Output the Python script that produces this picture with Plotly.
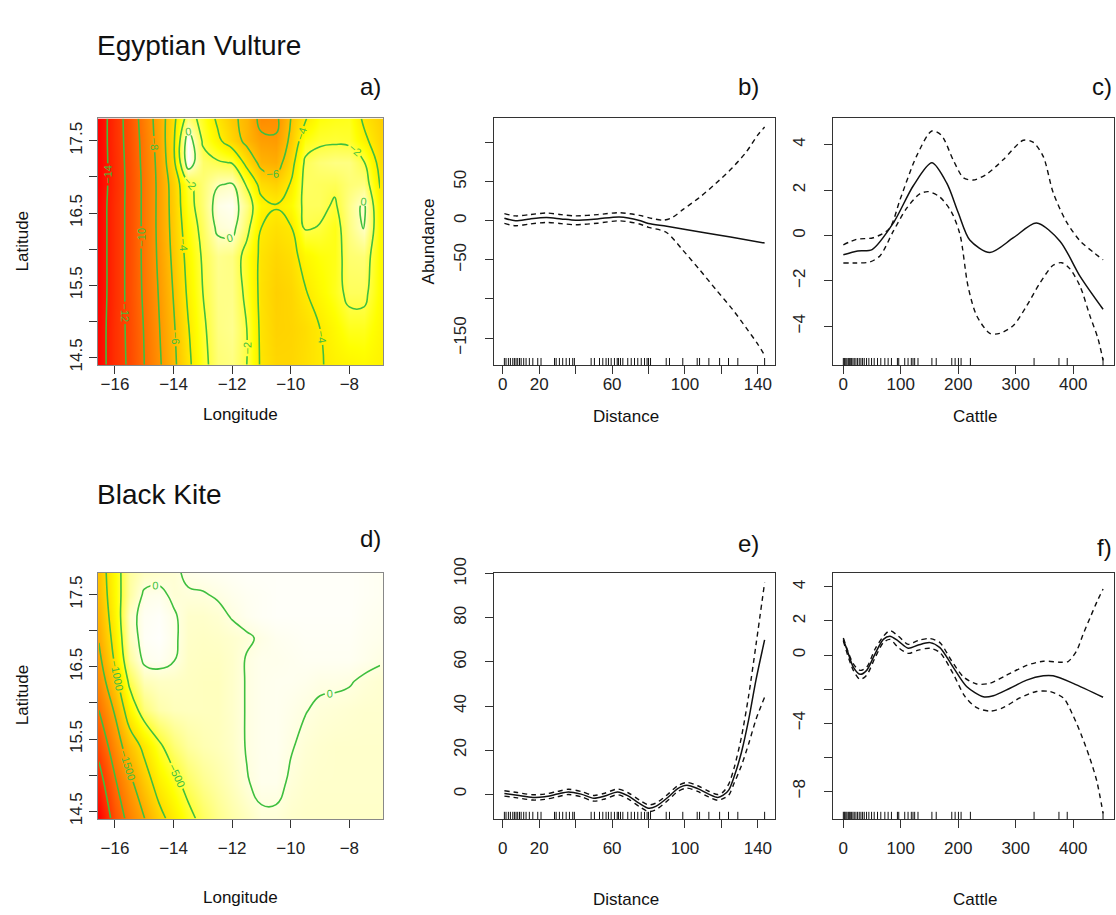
import plotly.graph_objects as go

W, H = 1116, 915
FONT = "Liberation Sans, Arial, Helvetica, sans-serif"
GREEN = "#3FBF3F"
INK = "#222222"

# ---------------- surfaces (a: Egyptian Vulture, d: Black Kite) ----------------
lon = [-16.55, -16.0, -15.5, -15.0, -14.5, -14.0, -13.5, -13.0, -12.5, -12.0,
       -11.5, -11.0, -10.5, -10.0, -9.5, -9.0, -8.5, -8.0, -7.5, -6.95]
lat = [14.4, 14.9, 15.4, 15.9, 16.3, 16.6, 16.9, 17.2, 17.5, 17.81]

ev_surface = [
    [-14.9, -12.9, -11.7, -10.0, -8.3, -6.4, -4.4, -2.5, -1.2, -1.0, -2.0, -4.3, -5.0, -5.0, -4.6, -4.1, -3.7, -3.5, -3.3, -3.6],
    [-14.9, -12.9, -11.6, -9.9, -8.1, -6.2, -4.1, -2.3, -1.0, -0.8, -2.0, -4.4, -5.2, -5.1, -4.7, -4.0, -3.3, -2.6, -2.6, -3.4],
    [-15.0, -13.0, -11.5, -9.7, -7.9, -5.9, -3.7, -2.0, -0.9, -0.9, -2.4, -4.5, -5.3, -5.0, -4.1, -3.3, -2.6, -1.6, -1.6, -3.2],
    [-15.0, -13.0, -11.5, -9.6, -7.7, -5.6, -3.4, -1.8, -0.8, -1.0, -2.6, -4.4, -5.0, -4.6, -3.4, -2.9, -2.7, -1.3, -1.2, -3.2],
    [-15.0, -13.0, -11.5, -9.6, -7.6, -5.4, -3.0, -1.5, 0.3, 0.5, -1.5, -4.0, -4.5, -4.1, -1.8, -2.1, -2.7, -1.0, 0.1, -3.3],
    [-15.0, -13.0, -11.5, -9.6, -7.6, -5.3, -2.6, -1.2, 0.6, 0.8, -1.0, -3.4, -3.9, -3.2, -1.6, -1.6, -2.2, -0.9, 0.3, -3.6],
    [-15.1, -13.1, -11.5, -9.6, -7.6, -5.2, -2.3, -1.2, -0.1, 0.1, -2.2, -4.7, -5.2, -3.9, -1.5, -1.6, -1.7, -1.2, -1.0, -4.1],
    [-15.1, -13.1, -11.4, -9.5, -7.5, -4.5, 1.0, -1.4, -1.8, -2.1, -4.6, -6.6, -6.9, -4.8, -1.7, -1.2, -1.0, -1.0, -1.9, -4.6],
    [-15.1, -13.0, -11.3, -9.4, -7.3, -4.3, 1.0, -2.2, -3.6, -5.0, -6.5, -7.6, -7.8, -5.6, -2.8, -2.3, -2.2, -2.3, -3.6, -5.0],
    [-15.1, -13.0, -11.2, -9.2, -7.2, -4.5, -1.2, -2.6, -4.3, -5.6, -6.6, -8.6, -8.4, -6.0, -4.1, -2.9, -2.7, -2.6, -4.3, -5.3],
]

bk_surface = [
    [-3050, -2300, -1850, -1510, -1130, -850, -600, -400, -260, -170, -100, -25, -25, -60, -70, -70, -70, -70, -70, -70],
    [-2700, -2050, -1600, -1200, -830, -600, -380, -250, -170, -100, -10, 40, 40, -20, -50, -60, -60, -60, -60, -60],
    [-2350, -1750, -1250, -900, -560, -330, -200, -140, -110, -70, 10, 40, 50, 10, -30, -50, -60, -60, -60, -60],
    [-2000, -1450, -750, -320, -160, -110, -100, -100, -100, -60, 10, 40, 50, 30, 5, -20, -30, -40, -50, -50],
    [-1750, -1150, -420, -120, -80, -80, -90, -100, -100, -60, 10, 40, 50, 50, 40, 20, 20, 10, -20, -40],
    [-1600, -950, -200, 40, 60, 10, -80, -90, -90, -60, 10, 40, 40, 50, 60, 60, 60, 60, 40, 15],
    [-1470, -850, -100, 70, 90, 30, -70, -80, -70, -50, -20, 20, 50, 60, 70, 70, 70, 70, 50, 40],
    [-1380, -770, -60, 60, 80, 20, -60, -60, -40, 10, 50, 70, 80, 80, 80, 80, 80, 80, 60, 50],
    [-1300, -720, -180, 30, 40, -30, -15, -10, 15, 40, 60, 70, 80, 80, 80, 80, 80, 80, 70, 60],
    [-1250, -700, -200, -90, -60, -30, 30, 50, 60, 70, 80, 80, 80, 80, 80, 80, 80, 80, 70, 60],
]

# ---------------- rug data ----------------
dist_rug = [0.9, 1.8, 3.1, 4.2, 5.5, 6.4, 7.3, 8.2, 9.2, 10.1, 11.5, 12.8, 14.6, 16.5, 19.2, 21.0,
            28.4, 29.3, 31.1, 32.9, 34.8, 36.6, 38.4, 39.3,
            48.5, 50.3, 53.1, 54.9, 56.7, 58.0, 59.5, 61.3, 62.8, 63.5, 64.6, 65.9, 68.6, 70.5,
            72.3, 74.1, 76.0, 77.8, 79.2, 80.0, 81.1,
            89.7, 91.5, 98.8, 106.7, 108.0, 113.1, 119.0, 123.9, 129.0, 143.7]
cattle_rug = [0, 1.7, 2.9, 4.6, 6.4, 8.7, 10.4, 12.1, 14.4, 16.7, 19.0, 21.9, 24.8, 27.7, 30.6,
              33.5, 36.4, 40.4, 44.4, 49.1, 53.7, 59.5, 65.2, 72.2, 77.9, 83.7, 94.1, 96.4,
              106.8, 112.6, 118.3, 121.2, 124.1, 129.9, 154.1, 161.6, 188.7, 194.5, 200.3,
              204.9, 221.1, 331.9, 375.2, 389.6, 451.9]

# ---------------- b) Egyptian Vulture ~ Distance ----------------
b_x = [0.9, 7, 15, 24, 32, 40, 52, 64, 75, 80, 90, 110, 125, 143.7]
b_fit = [3.3, 0.0, 2.5, 4.2, 2.5, 0.8, 2.5, 5.0, 0.5, -3.5, -7.0, -14.8, -20.7, -28.4]
b_up_x = [0.9, 7, 15, 24, 32, 40, 52, 64, 75, 82, 88, 93, 99, 108, 117, 126, 133.6, 140, 143.7]
b_up = [9.2, 6.3, 8.0, 10.0, 8.0, 6.3, 8.0, 10.4, 7.0, 3.0, 0.8, 4.2, 14.6, 30.0, 48.0, 68.0, 88.0, 110.0, 120.0]
b_lo_x = [0.9, 7, 15, 24, 32, 40, 52, 64, 75, 80, 89.7, 98.8, 108, 117, 126, 133.6, 140, 143.7]
b_lo = [-3.3, -6.3, -4.0, -2.0, -3.5, -5.0, -3.0, 0.0, -4.0, -8.3, -14.6, -37.5, -62.5, -88.0, -113.0, -137.0, -158.0, -172.0]

# ---------------- c) Egyptian Vulture ~ Cattle ----------------
c_x = [0, 25, 50, 87, 122, 154, 180, 200, 220, 255, 296, 336, 377, 412, 452]
c_fit = [-0.85, -0.68, -0.62, 0.55, 2.2, 3.2, 2.3, 1.0, -0.2, -0.75, -0.1, 0.55, -0.25, -1.8, -3.25]
c_up_x = [0, 23, 52, 80, 99, 127, 154, 171, 191, 209, 226, 249, 278, 313, 330, 348, 365, 388, 412, 435, 452]
c_up = [-0.41, -0.17, -0.1, 0.3, 1.6, 3.47, 4.6, 4.4, 3.33, 2.54, 2.44, 2.69, 3.33, 4.19, 4.11, 3.47, 1.9, 0.61, -0.24, -0.74, -1.07]
c_lo_x = [0, 23, 46, 64, 87, 110, 133, 148, 168, 188, 203, 217, 232, 255, 272, 296, 319, 342, 365, 380, 394, 412, 429, 443, 452]
c_lo = [-1.21, -1.21, -1.17, -0.89, 0.19, 1.19, 1.83, 1.93, 1.69, 1.04, 0.04, -2.24, -3.53, -4.31, -4.31, -3.96, -3.1, -2.1, -1.31, -1.2, -1.46, -2.24, -3.53, -4.53, -5.5]

# ---------------- e) Black Kite ~ Distance ----------------
e_x = [0.9, 8, 16.5, 23, 30, 36, 43, 50, 56, 63, 69, 75, 80, 84, 91, 96, 101, 107, 113, 118, 121, 124, 127, 131, 135, 139, 143.7]
e_fit = [0.3, -0.5, -1.5, -1.2, 0.0, 1.0, 0.0, -1.9, -0.9, 1.0, -0.9, -4.2, -6.4, -5.6, -1.2, 2.5, 4.0, 2.5, 0.0, -1.5, -0.5, 1.8, 8.0, 19.0, 34.0, 52.0, 70.0]
e_up = [1.5, 0.7, -0.3, 0.0, 1.2, 2.2, 1.2, -0.6, 0.4, 2.3, 0.5, -2.7, -4.9, -4.1, 0.2, 3.8, 5.3, 3.8, 1.3, -0.2, 1.0, 4.5, 12.0, 26.0, 45.0, 68.0, 96.0]
e_lo = [-0.9, -1.7, -2.7, -2.4, -1.2, -0.2, -1.2, -3.2, -2.2, -0.3, -2.3, -5.7, -7.9, -7.1, -2.6, 1.2, 2.7, 1.2, -1.3, -2.8, -2.0, -0.5, 5.0, 13.0, 23.0, 34.0, 44.0]

# ---------------- f) Black Kite ~ Cattle ----------------
f_x = [0, 7, 17.4, 29, 40.6, 55, 69.6, 81, 95.7, 113, 130.4, 150.7, 168, 191, 214.5, 243.5, 261, 290, 319, 348, 365, 400, 452]
f_fit = [0.92, 0.25, -0.71, -1.13, -0.9, 0.06, 0.92, 1.11, 0.82, 0.4, 0.59, 0.73, 0.44, -0.71, -1.85, -2.45, -2.39, -1.95, -1.47, -1.22, -1.22, -1.66, -2.48]
f_up_x = [0, 17.4, 29, 40.6, 55, 69.6, 81, 95.7, 113, 130.4, 150.7, 168, 188, 209, 232, 255, 284, 319, 348, 377, 391, 406, 417, 429, 441, 452]
f_up = [1.0, -0.52, -0.9, -0.71, 0.34, 1.1, 1.43, 1.11, 0.63, 0.86, 0.97, 0.73, -0.32, -1.28, -1.7, -1.66, -1.18, -0.61, -0.36, -0.42, -0.38, 0.25, 1.2, 2.16, 3.11, 3.88]
f_lo_x = [0, 17.4, 29, 40.6, 55, 69.6, 81, 95.7, 113, 130.4, 150.7, 168, 191, 211.6, 232, 255, 278, 307, 336, 359, 383, 400, 414.5, 429, 441, 452]
f_lo = [0.82, -0.9, -1.43, -1.18, -0.17, 0.73, 0.92, 0.44, 0.1, 0.29, 0.4, 0.15, -1.09, -2.43, -3.09, -3.29, -3.09, -2.52, -2.14, -2.14, -2.52, -3.57, -4.72, -6.06, -7.39, -9.3]

heat = [[0.0, "#FF0000"], [0.125, "#FF2B00"], [0.25, "#FF5500"], [0.375, "#FF8000"],
        [0.5, "#FFAA00"], [0.625, "#FFD500"], [0.75, "#FFFF00"], [0.875, "#FFFF80"], [1.0, "#FFFFFF"]]

fig = go.Figure()


def px_x(p):
    return p / W


def px_y(p):
    return 1 - p / H


cols = [(98, 383), (494, 775), (833, 1114)]
rows = [(105, 358), (570.7, 823)]

# surfaces
for i, (z, zmin, zmax, cstart, cend, csize) in enumerate([
        (ev_surface, -15.2, 1.0, -14, 0, 2),
        (bk_surface, -3050, 100, -2500, 0, 500)]):
    ax = 1 if i == 0 else 4
    xr = "x" if ax == 1 else "x%d" % ax
    yr = "y" if ax == 1 else "y%d" % ax
    fig.add_trace(go.Heatmap(x=lon, y=lat, z=z, colorscale=heat, zmin=zmin, zmax=zmax,
                             zsmooth="best", showscale=False, xaxis=xr, yaxis=yr,
                             hoverinfo="skip"))
    fig.add_trace(go.Contour(x=lon, y=lat, z=z, autocontour=False,
                             contours=dict(start=cstart, end=cend, size=csize, coloring="none",
                                           showlabels=True,
                                           labelfont=dict(color=GREEN, size=11, family=FONT)),
                             line=dict(color=GREEN, width=1.6, smoothing=1.3),
                             showscale=False, xaxis=xr, yaxis=yr, hoverinfo="skip"))


def add_curves(ax, x, fit, ux, up, lx, lo):
    xr = "x%d" % ax
    yr = "y%d" % ax
    fig.add_trace(go.Scatter(x=x, y=fit, mode="lines", line=dict(color="#111111", width=1.5, shape="spline", smoothing=0.8),
                             xaxis=xr, yaxis=yr, showlegend=False, hoverinfo="skip"))
    fig.add_trace(go.Scatter(x=ux, y=up, mode="lines", line=dict(color="#111111", width=1.4, dash="5px,4px", shape="spline", smoothing=0.8),
                             xaxis=xr, yaxis=yr, showlegend=False, hoverinfo="skip"))
    fig.add_trace(go.Scatter(x=lx, y=lo, mode="lines", line=dict(color="#111111", width=1.4, dash="5px,4px", shape="spline", smoothing=0.8),
                             xaxis=xr, yaxis=yr, showlegend=False, hoverinfo="skip"))


add_curves(2, b_x, b_fit, b_up_x, b_up, b_lo_x, b_lo)
add_curves(3, c_x, c_fit, c_up_x, c_up, c_lo_x, c_lo)
add_curves(5, e_x, e_fit, e_x, e_up, e_x, e_lo)
add_curves(6, f_x, f_fit, f_up_x, f_up, f_lo_x, f_lo)

shapes = []
for ax, rug in [(2, dist_rug), (5, dist_rug), (3, cattle_rug), (6, cattle_rug)]:
    for v in rug:
        shapes.append(dict(type="line", xref="x%d" % ax, yref="y%d domain" % ax,
                           x0=v, x1=v, y0=0, y1=0.03, line=dict(color="#111111", width=1)))

lon_t = dict(tickvals=[-16, -14, -12, -10, -8], ticktext=["\u221216", "\u221214", "\u221212", "\u221210", "\u22128"])
lat_t = dict(tickvals=[14.5, 15, 15.5, 16, 16.5, 17, 17.5], ticktext=["14.5", "", "15.5", "", "16.5", "", "17.5"])
dist_t = dict(tickvals=[0, 20, 40, 60, 80, 100, 120, 140], ticktext=["0", "20", "", "60", "", "100", "", "140"])
cat_t = dict(tickvals=[0, 100, 200, 300, 400], ticktext=["0", "100", "200", "300", "400"])
b_yt = dict(tickvals=[-150, -100, -50, 0, 50, 100], ticktext=["\u2212150", "", "\u221250", "0", "50", ""])
c_yt = dict(tickvals=[-4, -2, 0, 2, 4], ticktext=["\u22124", "\u22122", "0", "2", "4"])
e_yt = dict(tickvals=[0, 20, 40, 60, 80, 100], ticktext=["0", "20", "40", "60", "80", "100"])
f_yt = dict(tickvals=[-8, -6, -4, -2, 0, 2, 4], ticktext=["\u22128", "", "\u22124", "", "0", "2", "4"])

axis_specs = {
    1: (0, 0, [-16.58, -6.85], [14.39, 17.81], lon_t, lat_t, "#888888"),
    2: (1, 0, [-4.8, 149.4], [-185, 131], dist_t, b_yt, "#333333"),
    3: (2, 0, [-18, 471], [-5.72, 5.15], cat_t, c_yt, "#333333"),
    4: (0, 1, [-16.58, -6.85], [14.39, 17.80], lon_t, lat_t, "#888888"),
    5: (1, 1, [-4.8, 149.4], [-11.4, 100.4], dist_t, e_yt, "#333333"),
    6: (2, 1, [-18, 471], [-9.64, 4.82], cat_t, f_yt, "#333333"),
}

layout_axes = {}
for ax, (ci, ri, xr, yr, xt, yt, frame) in axis_specs.items():
    c0, c1 = cols[ci]
    r0, r1 = rows[ri]
    xname = "xaxis" if ax == 1 else "xaxis%d" % ax
    yname = "yaxis" if ax == 1 else "yaxis%d" % ax
    yanchor = "y" if ax == 1 else "y%d" % ax
    xanchor = "x" if ax == 1 else "x%d" % ax
    common = dict(showline=True, mirror=True, linecolor=frame, linewidth=1, ticks="outside",
                  ticklen=8, tickwidth=1, tickcolor="#333333", showgrid=False, zeroline=False,
                  tickfont=dict(size=17, family=FONT, color=INK), fixedrange=True)
    layout_axes[xname] = dict(domain=[px_x(c0), px_x(c1)], range=xr, anchor=yanchor,
                              tickmode="array", ticklabelstandoff=(-5 if ri == 0 else 5), **xt, **common)
    layout_axes[yname] = dict(domain=[px_y(r1), px_y(r0)], range=yr, anchor=xanchor,
                              tickmode="array", tickangle=-90,
                              ticklabelstandoff=(0 if ci == 0 else 12), **yt, **common)

ann = []


def text(s, x, y, size, xanchor="center", angle=0):
    ann.append(dict(text=s, x=px_x(x), y=px_y(y), xref="paper", yref="paper", showarrow=False,
                    xanchor=xanchor, yanchor="middle", textangle=angle,
                    font=dict(size=size, family=FONT, color="#111111")))


text("Egyptian Vulture", 95, 30, 28, "left")
text("Black Kite", 95, 490, 28, "left")
text("a)", 383, 72, 24, "right")
text("b)", 761, 72, 24, "right")
text("c)", 1114, 72, 24, "right")
text("d)", 383, 535, 24, "right")
text("e)", 761, 540, 24, "right")
text("f)", 1114, 545, 24, "right")
for yy in (408, 903):
    text("Longitude", 240, yy, 17)
    text("Distance", 626, yy + 2, 17)
    text("Cattle", 975, yy + 2, 17)
text("Latitude", 22, 231, 17, angle=-90)
text("Latitude", 22, 696, 17, angle=-90)
text("Abundance", 428, 231, 17, angle=-90)

fig.update_layout(width=W, height=H, margin=dict(l=0, r=0, t=0, b=0),
                  paper_bgcolor="white", plot_bgcolor="white", showlegend=False,
                  annotations=ann, shapes=shapes, font=dict(family=FONT), **layout_axes)

fig.write_html("out.html")
